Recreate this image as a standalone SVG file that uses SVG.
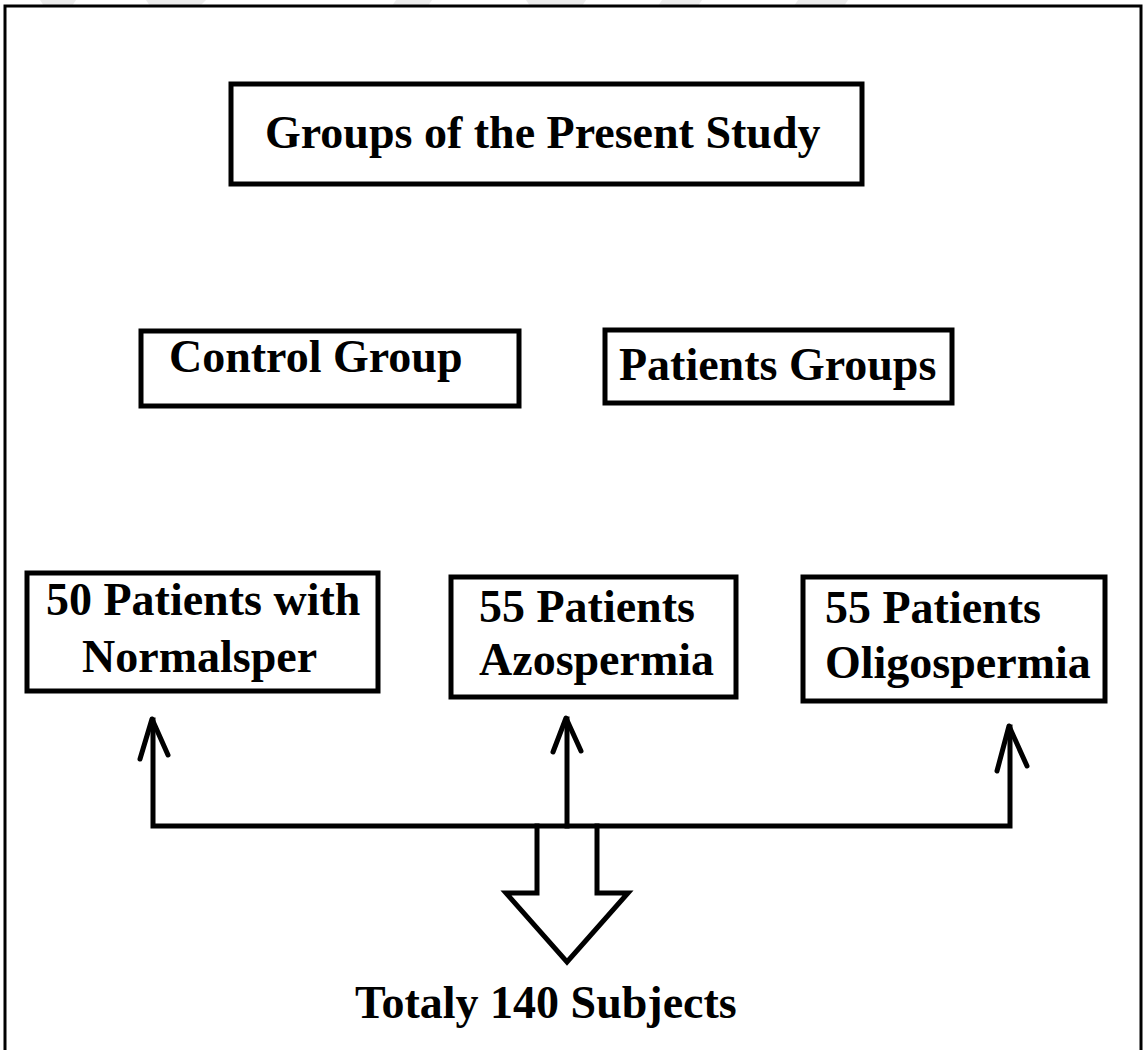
<svg xmlns="http://www.w3.org/2000/svg" width="1146" height="1050" viewBox="0 0 1146 1050">
<style>
.box{fill:#fff;stroke:#000;stroke-width:5}
.t{font-family:"Liberation Serif","Times New Roman",serif;font-weight:bold;font-size:46px;fill:#000}
.ln{fill:none;stroke:#000;stroke-width:5;stroke-linecap:square;stroke-linejoin:miter}
.hd{fill:none;stroke:#000;stroke-width:5;stroke-linecap:round;stroke-linejoin:round}
.wm{fill:#ececec}
</style>
<rect width="1146" height="1050" fill="#fff"/>
<g id="watermark">
<polygon class="wm" points="40,0 76,0 72,6 44,6"/>
<polygon class="wm" points="146,0 206,0 200,6 150,6"/>
<polygon class="wm" points="396,0 432,0 428,6 392,6"/>
<polygon class="wm" points="526,0 586,0 582,6 530,6"/>
<polygon class="wm" points="662,0 702,0 698,6 658,6"/>
<polygon class="wm" points="798,0 848,0 844,6 794,6"/>
</g>
<rect id="frame" x="5" y="6" width="1136" height="1060" fill="none" stroke="#000" stroke-width="3"/>
<g id="title">
<rect class="box" x="231" y="84" width="631" height="100"/>
<text class="t" x="265" y="148">Groups of the Present Study</text>
</g>
<g id="control">
<rect class="box" x="141" y="331" width="378" height="75"/>
<text class="t" x="169" y="372">Control Group</text>
</g>
<g id="patients">
<rect class="box" x="605" y="330" width="347" height="73"/>
<text class="t" x="619" y="380">Patients Groups</text>
</g>
<g id="normal">
<rect class="box" x="27" y="573" width="351" height="118"/>
<text class="t" x="46" y="615">50 Patients with</text>
<text class="t" x="82" y="672">Normalsper</text>
</g>
<g id="azo">
<rect class="box" x="451" y="577" width="285" height="120"/>
<text class="t" x="479" y="622">55 Patients</text>
<text class="t" x="479" y="675">Azospermia</text>
</g>
<g id="oligo">
<rect class="box" x="803" y="577" width="302" height="124"/>
<text class="t" x="825" y="623">55 Patients</text>
<text class="t" x="825" y="678">Oligospermia</text>
</g>
<g id="connectors">
<path class="ln" d="M153,720 V826 H1010 V727"/>
<path class="ln" d="M567,719 V826"/>
<path class="hd" d="M140,759 L152,719 L168,755"/>
<path class="hd" d="M553,752 L566,718 L581,751"/>
<path class="hd" d="M997,771 L1009,726 L1027,766"/>
<path class="ln" d="M537,826 V893 H506 L567,962 L628,893 H597 V826" stroke-linejoin="miter"/>
</g>
<g id="total">
<text class="t" x="355" y="1018">Totaly 140 Subjects</text>
</g>
</svg>
